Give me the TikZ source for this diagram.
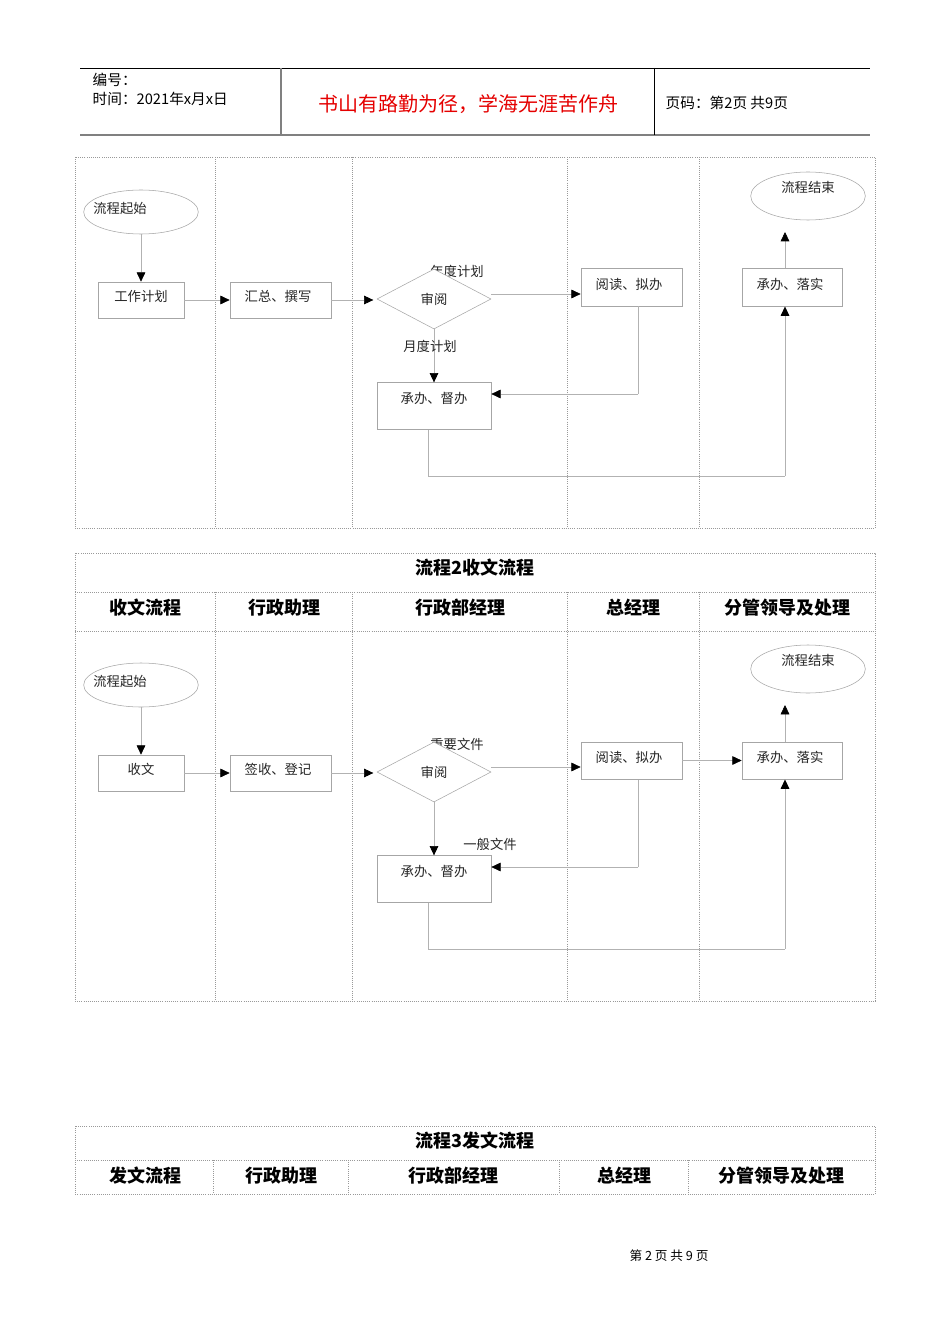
\documentclass[tikz,border=0pt]{standalone}
\usepackage{fontspec}
\setmainfont{Liberation Serif}
\newfontfamily\cjk{Noto Sans CJK SC}
\usetikzlibrary{shapes.geometric,arrows.meta}
\begin{document}
\begin{tikzpicture}[x=0.75pt,y=-0.75pt,font=\cjk,
  dotln/.style={draw=gray!80, densely dotted, line width=0.6pt},
  fbox/.style={draw=gray!70, fill=white, minimum width=#1*0.75pt, inner sep=0pt, line width=0.5pt},
  flow/.style={draw=gray!60, line width=0.5pt},
  arr/.style={flow, -{Triangle[length=7pt,width=6.5pt,fill=black,color=black]}},
  lbl/.style={font=\cjk\fontsize{10}{12}\selectfont, text=black!85},
  hd/.style={font=\cjk\bfseries\fontsize{13.5}{16}\selectfont}]
\useasboundingbox (0,0) rectangle (950,1344);
\fill[white] (0,0) rectangle (950,1344);
% header
\draw[line width=0.6pt] (80,68) -- (870,68);
\draw[gray, line width=1.2pt] (80,135) -- (870,135);
\draw[gray, line width=0.8pt] (281,68) -- (281,135);
\draw[line width=0.6pt] (654,68) -- (654,135);
\node[anchor=west, font=\cjk\fontsize{11}{13}\selectfont] (bh) at (88,80) {编号：};
\node[anchor=west, font=\cjk\fontsize{11}{13}\selectfont] (sj) at (88,99) {时间：2021年x月x日};
\node[font=\cjk\fontsize{15}{18}\selectfont, text=red!90!black] (tt) at (468,104) {书山有路勤为径，学海无涯苦作舟};
\node[anchor=west, font=\cjk\fontsize{11}{13}\selectfont] (ym) at (661,103) {页码：第2页 共9页};
% diagram bodies
\foreach \dy/\top in {0/157, 473/553} {
  \draw[dotln] (75,\top) rectangle (875,528+\dy);
  \foreach \xx in {215,352,567,699} \draw[dotln] (\xx,157+\dy) -- (\xx,528+\dy);
}
\draw[dotln] (75,592) -- (875,592);
\draw[dotln] (75,631) -- (875,631);
\foreach \xx in {215,352,567,699} \draw[dotln] (\xx,592) -- (\xx,631);
\node[hd] (t2) at (475,568) {流程2收文流程};
\node[hd] (h1) at (145,608) {收文流程};
\node[hd] (h2) at (284,608) {行政助理};
\node[hd] (h3) at (460,608) {行政部经理};
\node[hd] (h4) at (633,608) {总经理};
\node[hd] (h5) at (787,608) {分管领导及处理};
% diagram 3
\draw[dotln] (75,1126) rectangle (875,1194);
\draw[dotln] (75,1160) -- (875,1160);
\foreach \xx in {213,348,559,688} \draw[dotln] (\xx,1160) -- (\xx,1194);
\node[hd] (t3) at (475,1141) {流程3发文流程};
\node[hd] (k1) at (145,1176) {发文流程};
\node[hd] (k2) at (281,1176) {行政助理};
\node[hd] (k3) at (453,1176) {行政部经理};
\node[hd] (k4) at (624,1176) {总经理};
\node[hd] (k5) at (781,1176) {分管领导及处理};
% flows
\foreach \dy/\first/\second/\id in {0/工作计划/汇总、撰写/a, 473/收文/签收、登记/b} {
  \node[ellipse, draw=gray!70, minimum width=86pt, minimum height=33pt, inner sep=0pt, lbl] (s\id) at (141,212+\dy) {};
  \node[lbl] at (120,208+\dy) {流程起始};
  \node[fbox=86, minimum height=27pt, lbl] (w\id) at (141,300+\dy) {};
  \node[lbl] at (141,296+\dy) {\first};
  \node[fbox=101, minimum height=27pt, lbl] (h\id) at (280.5,300+\dy) {};
  \node[lbl] at (278,296+\dy) {\second};
  \node[fbox=101, minimum height=28pt] (r\id) at (631.5,287.5+\dy) {};
  \node[lbl] at (629,284+\dy) {阅读、拟办};
  \node[fbox=100, minimum height=28pt] (l\id) at (792,287.5+\dy) {};
  \node[lbl] at (790,284+\dy) {承办、落实};
  \node[ellipse, draw=gray!70, minimum width=86pt, minimum height=36pt, inner sep=0pt] (e\id) at (808,196+\dy) {};
  \node[lbl] at (808,187+\dy) {流程结束};
  \node[fbox=114, minimum height=35pt] (d\id) at (434,406+\dy) {};
  \node[lbl] at (434,398+\dy) {承办、督办};
  \coordinate (c1\id) at (428,476+\dy);
  \coordinate (c2\id) at (785,476+\dy);
  \coordinate (c3\id) at (638,394+\dy);
  \coordinate (c4\id) at (785,232+\dy);
  \draw[arr] (s\id.south) -- (w\id.north);
  \draw[arr] (w\id.east) -- (h\id.west);
  \draw[arr] (h\id.east) -- ++(42,0) coordinate (x\id);
  \node[lbl] (y\id) at (457,271+\dy) {\ifnum\dy=0 年度计划\else 重要文件\fi};
  \node[diamond, draw=gray!70, fill=white, aspect=1.9, minimum width=85.5pt, minimum height=45pt, inner sep=0pt] (v\id) at (434,299+\dy) {};
  \node[lbl] at (434,299+\dy) {审阅};
  \draw[arr] (v\id.east |- 0,294+\dy) -- (r\id.west |- 0,294+\dy);
  \draw[arr] (v\id.south) -- (d\id.north);
  \draw[flow] (d\id.south -| c1\id) -- (c1\id) -- (c2\id);
  \draw[arr] (c2\id) -- (l\id.south -| c2\id);
  \draw[flow] (r\id.south -| c3\id) -- (c3\id);
  \draw[arr] (c3\id) -- (d\id.east |- c3\id);
  \draw[arr] (l\id.north -| c4\id) -- (c4\id);
}
\node[lbl] (m1) at (430,346) {月度计划};
\node[lbl] (m2) at (490,844) {一般文件};
\draw[arr] (rb.east) -- (lb.west);
% footer
\node[font=\cjk\fontsize{9.5}{11}\selectfont] (ft) at (669,1256) {第\ 2\ 页\ 共\ 9\ 页};
\end{tikzpicture}
\end{document}
